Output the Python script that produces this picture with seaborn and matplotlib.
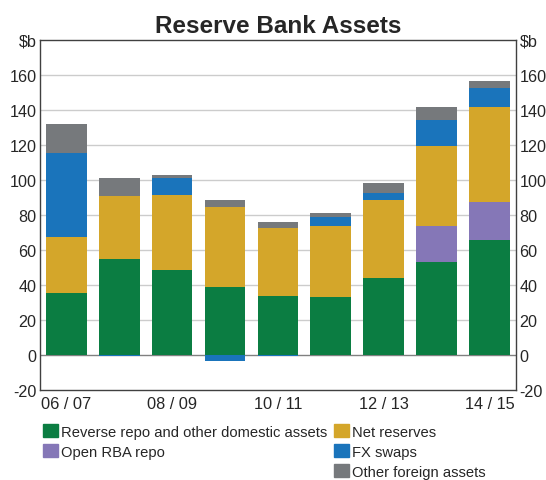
import numpy as np
import pandas as pd
import matplotlib
matplotlib.use("Agg")
import matplotlib.pyplot as plt
from matplotlib.patches import Patch
import seaborn as sns

# dados (em $b)
anos = ["06/07", "07/08", "08/09", "09/10", "10/11", "11/12", "12/13", "13/14", "14/15"]
reverse_repo = [35.7, 55.1, 48.6, 38.6, 33.6, 33.4, 43.9, 53.0, 65.9]
open_rba_repo = [0, 0, 0, 0, 0, 0, 0, 20.5, 21.3]
net_reserves = [31.9, 35.5, 43.0, 45.8, 38.8, 40.1, 44.7, 46.0, 54.2]
fx_swaps = [47.9, -0.6, 9.3, -3.4, -0.6, 5.2, 4.1, 14.5, 11.4]
other_foreign = [16.5, 10.5, 1.7, 4.3, 3.4, 2.6, 5.7, 7.4, 4.0]

rotulos_x = ["06 / 07", "08 / 09", "10 / 11", "12 / 13", "14 / 15"]
rotulos_y = ["-20", "0", "20", "40", "60", "80", "100", "120", "140", "160", "$b"]

series = [
    ("Reverse repo and other domestic assets", reverse_repo, "#0b7d42"),
    ("Open RBA repo", open_rba_repo, "#8577b7"),
    ("Net reserves", net_reserves, "#d4a62a"),
    ("FX swaps", fx_swaps, "#1a74bb"),
    ("Other foreign assets", other_foreign, "#76797c"),
]

sns.set_style("white")
plt.rcParams["font.family"] = ["Liberation Sans", "DejaVu Sans"]

fig = plt.figure(figsize=(5.46, 4.81), dpi=100)
ax = fig.add_axes([0.073, 0.187, 0.872, 0.728])

# empilhamento: positivos para cima, negativos para baixo
base_pos = np.zeros(len(anos))
base_neg = np.zeros(len(anos))
for nome, valores, cor in series:
    v = np.array(valores, dtype=float)
    base = np.where(v >= 0, base_pos, base_neg)
    df = pd.DataFrame({"ano": anos, "valor": v})
    sns.barplot(data=df, x="ano", y="valor", bottom=base, color=cor,
                width=0.77, saturation=1, ax=ax, linewidth=0)
    base_pos = base_pos + np.where(v >= 0, v, 0)
    base_neg = base_neg + np.where(v < 0, v, 0)

ax.set_xlim(-0.5, 8.5)
ax.set_ylim(-20, 180)
ax.set_xlabel("")
ax.set_ylabel("")

ax.set_yticks(np.arange(-20, 181, 20))
ax.set_yticklabels(rotulos_y)
ax.tick_params(axis="y", length=0, labelsize=11.6, pad=2.5,
               labelleft=True, labelright=True, right=True, left=True)

ax.set_xticks([0, 2, 4, 6, 8])
ax.set_xticklabels(rotulos_x)
ax.set_xticks(np.arange(0.5, 8, 1), minor=True)
ax.tick_params(axis="x", which="major", length=0, labelsize=11.8, pad=4)
ax.tick_params(axis="x", which="minor", direction="in", length=5,
               width=0.8, color="#404040")

for y in range(20, 161, 20):
    ax.axhline(y, color="#cccccc", linewidth=1, zorder=0)
ax.axhline(0, color="#808080", linewidth=1, zorder=0.5)

for s in ax.spines.values():
    s.set_color("#404040")
    s.set_linewidth(1)

ax.set_title("Reserve Bank Assets", fontsize=17.5, fontweight="bold", pad=6)

# legenda em duas colunas independentes
cores = {nome: cor for nome, _, cor in series}
esq = ["Reverse repo and other domestic assets", "Open RBA repo"]
dir_ = ["Net reserves", "FX swaps", "Other foreign assets"]
opts = dict(frameon=False, fontsize=10.6, handlelength=1.0, handleheight=1.0,
            handletextpad=0.2, labelspacing=0.36, borderpad=0, borderaxespad=0,
            loc="upper left")
fig.legend(handles=[Patch(color=cores[n], label=n) for n in esq],
           bbox_to_anchor=(0.079, 0.116), **opts)
fig.legend(handles=[Patch(color=cores[n], label=n) for n in dir_],
           bbox_to_anchor=(0.612, 0.116), **opts)

fig.savefig("out.png", dpi=100)
